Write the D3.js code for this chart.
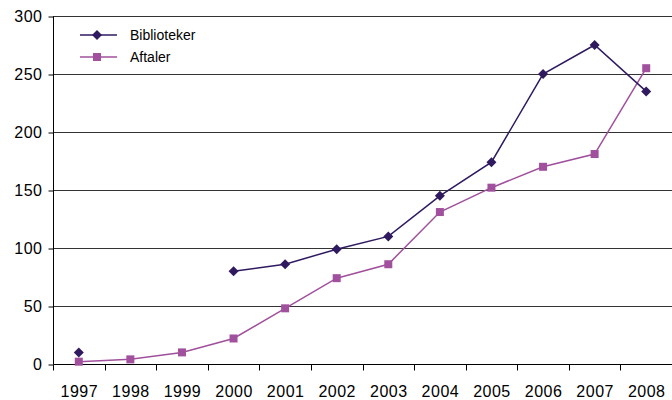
<html>
<head>
<script src="https://d3js.org/d3.v7.min.js"></script>
<style>
  body { margin: 0; background: #fff; }
  svg { font-family: "Liberation Sans", Arial, sans-serif; }
</style>
</head>
<body>
<div id="chart"></div>
<script>
// data
var years = ["1997", "1998", "1999", "2000", "2001", "2002", "2003", "2004", "2005", "2006", "2007", "2008"];
var biblioteker = [10, null, null, 80, 86, 99, 110, 145, 174, 250, 275, 235];
var aftaler = [2, 4, 10, 22, 48, 74, 86, 131, 152, 170, 181, 255];
var yTicks = [0, 50, 100, 150, 200, 250, 300];

var width = 672, height = 400;
var plotLeft = 53, plotRight = 672, plotTop = 16, plotBottom = 364;

var svg = d3.select("#chart").append("svg")
  .attr("width", width)
  .attr("height", height);

var x = d3.scaleBand().domain(years).range([plotLeft, plotRight]);
var y = d3.scaleLinear().domain([0, 300]).range([plotBottom, plotTop]);

// grid lines
svg.append("g").selectAll("line")
  .data(yTicks.filter(d => d > 0)).enter()
  .append("line")
  .attr("x1", plotLeft).attr("x2", plotRight)
  .attr("y1", d => Math.round(y(d)) + 0.5).attr("y2", d => Math.round(y(d)) + 0.5)
  .attr("stroke", "#333").attr("stroke-width", 1);

// y axis
var yAxis = svg.append("g")
  .attr("transform", `translate(${plotLeft + 0.5},0.5)`)
  .call(d3.axisLeft(y).tickValues(yTicks).tickSize(5).tickPadding(6));
yAxis.select(".domain").attr("stroke", "#000").attr("d", `M0,${plotTop}V${plotBottom}`);
yAxis.selectAll("text").style("font-size", "16px").style("letter-spacing", "0.5px").attr("fill", "#000");

// x axis
var xAxis = svg.append("g")
  .attr("transform", `translate(0.5,${Math.round(plotBottom) + 0.5})`)
  .call(d3.axisBottom(x).tickSize(0).tickPadding(21));
xAxis.select(".domain").attr("stroke", "#000").attr("d", `M${plotLeft},0H${plotRight}`);
xAxis.selectAll("text").style("font-size", "16px").style("letter-spacing", "0.5px").attr("fill", "#000");
xAxis.selectAll(".bandtick")
  .data(years).enter()
  .append("line")
  .attr("class", "bandtick")
  .attr("x1", d => Math.round(x(d))).attr("x2", d => Math.round(x(d)))
  .attr("y1", 0).attr("y2", 6)
  .attr("stroke", "#000");

var colBib = "#2f1a60";
var colAft = "#a0509c";

// diamond = square turned 45 degrees
function marker(shape) {
  return shape === "diamond"
    ? d3.symbol().type(d3.symbolSquare).size(50)()
    : d3.symbol().type(d3.symbolSquare).size(64)();
}
var rot = shape => shape === "diamond" ? " rotate(45)" : "";

function series(vals, color, shape) {
  var pts = years.map((yr, i) => ({ year: yr, v: vals[i] }));
  var line = d3.line()
    .defined(d => d.v !== null)
    .x(d => x(d.year) + x.bandwidth() / 2)
    .y(d => y(d.v));
  svg.append("path")
    .datum(pts)
    .attr("d", line)
    .attr("fill", "none")
    .attr("stroke", color)
    .attr("stroke-width", 1.5);
  svg.append("g").selectAll("path")
    .data(pts.filter(d => d.v !== null)).enter()
    .append("path")
    .attr("transform", d => `translate(${x(d.year) + x.bandwidth() / 2},${y(d.v)})` + rot(shape))
    .attr("d", marker(shape))
    .attr("fill", color);
}

series(aftaler, colAft, "square");
series(biblioteker, colBib, "diamond");

// legend
var legend = [
  { name: "Biblioteker", color: colBib, shape: "diamond" },
  { name: "Aftaler", color: colAft, shape: "square" }
];
var lg = svg.append("g").selectAll("g")
  .data(legend).enter()
  .append("g")
  .attr("transform", (d, i) => `translate(0,${35 + i * 22})`);
lg.append("line")
  .attr("x1", 80).attr("x2", 117)
  .attr("stroke", d => d.color).attr("stroke-width", 1.5);
lg.append("path")
  .attr("transform", d => "translate(97,0)" + rot(d.shape))
  .attr("d", d => marker(d.shape))
  .attr("fill", d => d.color);
lg.append("text")
  .attr("x", 130).attr("y", 5)
  .style("font-size", "14px")
  .text(d => d.name);
</script>
</body>
</html>
